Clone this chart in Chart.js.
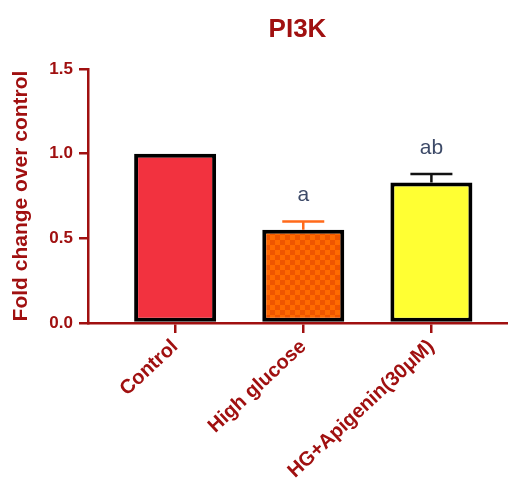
<!DOCTYPE html>
<html>
<head>
<meta charset="utf-8">
<script src="https://cdn.jsdelivr.net/npm/chart.js@4/dist/chart.umd.min.js"></script>
<style>
  html, body { margin: 0; padding: 0; background: #ffffff; }
  #wrap { width: 508px; height: 480px; position: relative; }
</style>
</head>
<body>
<div id="wrap"><canvas id="c" width="508" height="480"></canvas></div>
<script>
// Groups, mean fold change, SEM and significance letters
const categories = ['Control', 'High glucose', 'HG+Apigenin(30\u03BCM)'];
const foldChange = [1.00, 0.55, 0.83];
const sem = [0, 0.05, 0.05];
const letters = ['', 'a', 'ab'];
const yTicks = [0, 0.5, 1.0, 1.5];

const DARK_RED = '#a01010';
const FONT = "'Liberation Sans', Arial, sans-serif";

// orange checkerboard fill for the high-glucose bar
function checkerPattern() {
  const cv = document.createElement('canvas');
  cv.width = 10; cv.height = 10;
  const g = cv.getContext('2d');
  g.fillStyle = '#ff6a00';
  g.fillRect(0, 0, 10, 10);
  g.fillStyle = '#ee5500';
  g.fillRect(0, 0, 5, 5);
  g.fillRect(5, 5, 5, 5);
  return g.createPattern(cv, 'repeat');
}

const barFill = ['#f2323f', checkerPattern(), '#ffff33'];
const errColor = ['#000000', '#ff6a1a', '#111111'];

// SEM whiskers and letters above each bar
const annotate = {
  id: 'annotate',
  afterDatasetsDraw(chart) {
    const { ctx } = chart;
    const xs = chart.scales.x, ys = chart.scales.y;
    ctx.save();
    foldChange.forEach((v, i) => {
      const cx = xs.getPixelForValue(i);
      const yTop = ys.getPixelForValue(v + sem[i]);
      if (sem[i] > 0) {
        ctx.strokeStyle = errColor[i];
        ctx.lineWidth = 2.5;
        ctx.beginPath();
        ctx.moveTo(cx, ys.getPixelForValue(v));
        ctx.lineTo(cx, yTop);
        ctx.moveTo(cx - 21, yTop);
        ctx.lineTo(cx + 21, yTop);
        ctx.stroke();
      }
      if (letters[i]) {
        ctx.fillStyle = '#3d4a68';
        ctx.font = "21px " + FONT;
        ctx.textAlign = 'center';
        ctx.textBaseline = 'middle';
        ctx.fillText(letters[i], cx, yTop - 26);
      }
    });
    ctx.restore();
  }
};

new Chart(document.getElementById('c'), {
  type: 'bar',
  data: {
    datasets: [{
      data: foldChange.map((v, i) => ({ x: i, y: v })),
      backgroundColor: barFill,
      borderColor: '#000000',
      borderWidth: 4,
      borderSkipped: false,
      barPercentage: 0.64,
      categoryPercentage: 1.0
    }]
  },
  options: {
    responsive: false,
    animation: false,
    layout: { padding: { left: 0, right: 1, top: 0, bottom: 0 } },
    plugins: {
      legend: { display: false },
      tooltip: { enabled: false },
      title: {
        display: true,
        fullSize: false,
        text: 'PI3K',
        color: DARK_RED,
        font: { family: FONT, size: 26, weight: 'bold', lineHeight: 1.2 },
        padding: { top: 14, bottom: 23.8 }
      }
    },
    scales: {
      x: {
        type: 'linear',
        min: -0.68,
        max: 2.59,
        offset: false,
        afterBuildTicks: s => { s.ticks = categories.map((c, i) => ({ value: i })); },
        afterFit: s => { s.height = 157; },
        ticks: {
          autoSkip: false,
          minRotation: 43,
          maxRotation: 43,
          padding: 2,
          color: DARK_RED,
          font: { family: FONT, size: 20, weight: 'bold' },
          callback: v => categories[v]
        },
        grid: { offset: false, drawOnChartArea: false, color: DARK_RED, lineWidth: 2.5, tickLength: 10 },
        border: { color: DARK_RED, width: 2.5 }
      },
      y: {
        min: 0,
        max: 1.5,
        afterBuildTicks: s => { s.ticks = yTicks.map(v => ({ value: v })); },
        afterFit: s => { s.width = 88; },
        ticks: {
          padding: 6,
          color: DARK_RED,
          font: { family: FONT, size: 17, weight: 'bold' },
          callback: v => Number(v).toFixed(1)
        },
        grid: { drawOnChartArea: false, color: DARK_RED, lineWidth: 2.5, tickLength: 9 },
        border: { color: DARK_RED, width: 2.5 },
        title: {
          display: true,
          text: 'Fold change over control',
          color: DARK_RED,
          font: { family: FONT, size: 21, weight: 'bold', lineHeight: 1.2 },
          padding: { top: 9, bottom: 0 }
        }
      }
    }
  },
  plugins: [annotate]
});
</script>
</body>
</html>
